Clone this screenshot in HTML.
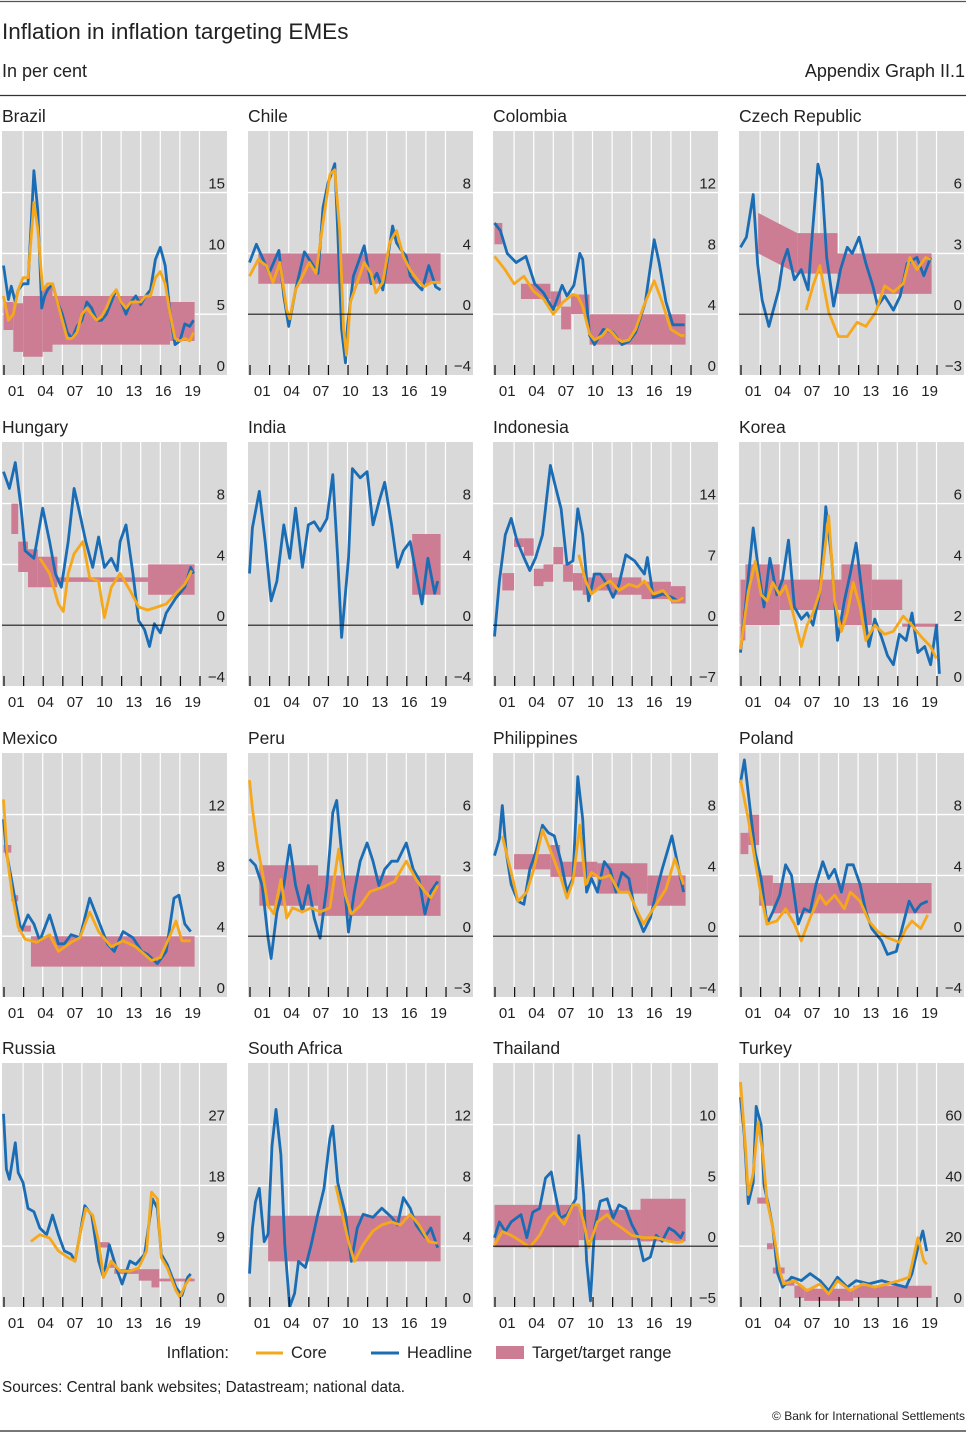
<!DOCTYPE html>
<html><head><meta charset="utf-8">
<style>
body{margin:0;background:#fff;}
#wrap{position:relative;width:966px;height:1433px;font-family:"Liberation Sans",Arial,sans-serif;color:#222;}
svg text{font-family:"Liberation Sans",Arial,sans-serif;}
</style></head>
<body>
<div id="wrap">
<svg id="fig" width="966" height="1433" viewBox="0 0 966 1433" xmlns="http://www.w3.org/2000/svg">
<line x1="0" y1="1.5" x2="966" y2="1.5" stroke="#555" stroke-width="1.2"/>
<text x="2" y="39" font-size="22.5" fill="#222">Inflation in inflation targeting EMEs</text>
<text x="2" y="77" font-size="18" fill="#222">In per cent</text>
<text x="965" y="77" font-size="18" fill="#222" text-anchor="end">Appendix Graph II.1</text>
<line x1="0" y1="95.5" x2="966" y2="95.5" stroke="#333" stroke-width="1.2"/>
<g id="panels"></g>
<g>
<text x="229" y="1358" font-size="16.5" text-anchor="end" fill="#222">Inflation:</text>
<line x1="256" y1="1353" x2="283" y2="1353" stroke="#f6a81c" stroke-width="3"/>
<text x="291" y="1358" font-size="16.5" fill="#222">Core</text>
<line x1="371" y1="1353" x2="399" y2="1353" stroke="#1a6db5" stroke-width="3"/>
<text x="407" y="1358" font-size="16.5" fill="#222">Headline</text>
<rect x="496" y="1346" width="28" height="13" fill="#cc7d93"/>
<text x="532" y="1358" font-size="16.5" fill="#222">Target/target range</text>
</g>
<text x="2" y="1392" font-size="15.3" fill="#222">Sources: Central bank websites; Datastream; national data.</text>
<text x="965" y="1420" font-size="12" fill="#222" text-anchor="end">© Bank for International Settlements</text>
<line x1="0" y1="1431" x2="966" y2="1431" stroke="#777" stroke-width="2"/>
</svg>
</div>
<script>
const yearLabels = ['01','04','07','10','13','16','19'];

const brazilTicks = [0,5,10,15];
const brazilHeadline = [[2000,9],[2000.5,6.2],[2000.8,7.3],[2001.2,6],[2001.5,7],[2002,7.5],[2002.5,7.5],[2002.8,12],[2003.1,16.8],[2003.5,13.5],[2003.9,5.5],[2004.2,6.5],[2004.5,7],[2005,7.5],[2005.5,6],[2006,5],[2006.5,3.5],[2007,3],[2007.5,4],[2008,4.5],[2008.5,6],[2009,5.5],[2009.5,4.5],[2010,4.5],[2010.5,5],[2011,6],[2011.5,7],[2012,6],[2012.5,5],[2013,6],[2013.5,6.5],[2014,5.8],[2014.5,6.5],[2015,7],[2015.5,9.5],[2016,10.5],[2016.5,9],[2017,5],[2017.5,2.5],[2018,2.8],[2018.5,4.2],[2019,4],[2019.4,4.5]];
const brazilCore = [[2000,6.5],[2000.5,4.5],[2001,5],[2001.5,7],[2002,8],[2002.5,8],[2002.8,11],[2003.1,14.2],[2003.5,12],[2004,7],[2004.5,7.5],[2005,7.5],[2005.5,6],[2006,4.5],[2006.5,3],[2007,3],[2007.5,3.5],[2008,5],[2008.5,5.5],[2009,5],[2009.5,4.5],[2010,4.8],[2010.5,5.5],[2011,6.5],[2011.5,7],[2012,6],[2012.5,5.5],[2013,6],[2013.5,6],[2014,6],[2014.5,6.5],[2015,6.5],[2015.5,8],[2016,8.5],[2016.5,7.5],[2017,5],[2017.5,3],[2018,2.8],[2018.5,3],[2019,2.8],[2019.4,3.5]];
const brazilTarget = [[2000,2001,3.7,6],[2001,2002,1.9,5.9],[2002,2004,1.5,6.5],[2004,2005,1.9,7.3],[2005,2017,2.5,6.5],[2017,2019.5,2.8,6]];

const chileTicks = [-4,0,4,8];
const chileHeadline = [[2000,3.4],[2000.7,4.6],[2001.4,3.6],[2002,2.7],[2003,4.2],[2003.5,1.2],[2004,-0.8],[2004.7,1.6],[2005.6,4.1],[2006.3,3.4],[2007,2.7],[2007.5,7],[2008,8.6],[2008.7,9.9],[2009,5.5],[2009.4,-1],[2009.8,-3.2],[2010,-0.8],[2010.6,2.5],[2011.7,4.5],[2012.4,2],[2013,2.7],[2013.6,1.6],[2014.6,5.8],[2015,4.7],[2015.5,4.2],[2016,3.8],[2016.4,2.5],[2017,2],[2017.6,1.6],[2018.3,3.2],[2019,1.8],[2019.5,1.6]];
const chileCore = [[2000,2.5],[2000.9,3.6],[2001.7,3.2],[2002.4,2.1],[2003.1,3.4],[2003.8,0.3],[2004.1,-0.3],[2004.7,1.6],[2005.4,2.5],[2006.1,3.4],[2006.8,2.7],[2007.5,6],[2008.2,9.2],[2008.7,9.5],[2009.2,5.5],[2009.6,-1],[2009.9,-2.7],[2010.3,0.8],[2011,2.1],[2011.7,3.4],[2012.4,2.7],[2012.9,1.4],[2013.6,2.1],[2014.3,4.7],[2015,5.5],[2015.7,3.8],[2016.4,2.9],[2017.1,2.3],[2017.8,1.8],[2018.6,2.1],[2019.5,2.1]];
const chileTarget = [[2000.9,2019.5,2,4]];

const colombiaTicks = [0,4,8,12];
const colombiaHeadline = [[2000,10],[2000.6,9.5],[2001.3,8],[2002.2,7.4],[2003.2,7.8],[2004.1,6],[2005,5.4],[2006,4.3],[2006.9,5.9],[2007.4,5.2],[2008.1,5.9],[2008.7,8],[2009,7.6],[2009.7,2.6],[2010.2,2],[2011.1,3],[2012.1,2.8],[2013,2],[2013.7,2.2],[2014.4,2.8],[2015.4,4.8],[2016.3,8.9],[2016.8,7.4],[2017.5,4.8],[2018.2,3.3],[2018.9,3.3],[2019.4,3.3]];
const colombiaCore = [[2000,7.8],[2001,7],[2002,6],[2003,6.5],[2004,5.5],[2005,5],[2006,4],[2007,4.8],[2008,5.3],[2008.5,5.2],[2009,4.5],[2009.7,2.7],[2010.2,2.3],[2011,2.6],[2011.5,3],[2012,2.8],[2012.5,2.4],[2013,2.2],[2013.7,2.3],[2014.4,3],[2015.2,4.5],[2016.3,6.2],[2017,5],[2017.5,4],[2018,3],[2018.5,2.8],[2019,2.6],[2019.4,2.6]];
const colombiaTarget = [[2000,2000.8,8.6,10],[2002.7,2005.7,5,6],[2005.7,2006.8,4.5,5.5],[2006.8,2007.8,3,4.5],[2007.8,2009.7,4,5.3],[2009.7,2019.5,2,4]];

const czechTicks = [-3,0,3,6];
const czechHeadline = [[2000,3.3],[2000.6,3.8],[2001.3,5.9],[2001.75,2.5],[2002.2,0.7],[2002.9,-0.6],[2003.9,1.2],[2004.3,2.5],[2004.8,3.2],[2005.5,1.7],[2006.2,2.2],[2006.9,1.2],[2007.2,3.2],[2007.9,7.4],[2008.3,6.6],[2008.8,2.8],[2009.5,0.4],[2010.2,2.2],[2010.9,3.3],[2011.4,3],[2012.1,3.8],[2012.8,2.5],[2013.5,1.4],[2014,0.4],[2014.7,0.9],[2015.6,0.2],[2016.3,0.9],[2017,2.5],[2018,2.8],[2018.7,1.9],[2019.4,2.8]];
const czechCore = [[2006.7,0.2],[2007.4,1.4],[2008.1,2.4],[2009,0.1],[2010,-1.1],[2010.9,-1.1],[2011.9,-0.4],[2012.8,-0.6],[2013.8,0.1],[2014.7,1.4],[2015.6,1.1],[2016.6,1.5],[2017.3,2.8],[2018,2.2],[2018.9,2.8],[2019.4,2.7]];
const czechTarget = [[2001.8,2005.8,3,5,2,4],[2005.8,2009.9,2,4],[2009.9,2019.5,1,3]];

const hungaryTicks = [-4,0,4,8];
const hungaryHeadline = [[2000,10.1],[2000.6,9],[2001.2,10.7],[2001.8,7.7],[2002.2,4.9],[2003.1,4.4],[2004,7.7],[2004.7,5.5],[2005.3,3.4],[2005.9,2.5],[2006.6,5.5],[2007.2,9],[2007.8,7.3],[2008.4,5.5],[2009.1,3.8],[2009.7,5.8],[2010.3,3.8],[2011,4.4],[2011.6,3.6],[2011.9,5.5],[2012.5,6.6],[2013.2,3.4],[2013.8,0.3],[2014.4,-0.3],[2014.9,-1.4],[2015.4,0.1],[2016,-0.5],[2016.6,0.8],[2017.6,1.8],[2018.5,2.5],[2019.1,3.8],[2019.4,3.4]];
const hungaryCore = [[2003.7,4.4],[2004.7,3.4],[2005.6,1.4],[2006.1,0.9],[2006.6,3.4],[2007.2,4.7],[2008.1,5.5],[2008.8,3.1],[2009.7,2.9],[2010.3,0.5],[2011,2.5],[2011.9,3.4],[2012.9,2.3],[2013.8,1.2],[2014.7,1],[2015.7,1.2],[2016.6,1.4],[2017.6,2.1],[2018.5,2.7],[2019.2,3.6]];
const hungaryTarget = [[2000.8,2001.5,6,8],[2001.5,2002.5,3.5,5.5],[2002.5,2003.5,2.5,5],[2003.5,2005.5,2.5,4.5],[2005.5,2014.75,2.85,3.15],[2014.75,2019.5,2,4]];

const indiaTicks = [-4,0,4,8];
const indiaHeadline = [[2000,3.4],[2000.3,6.4],[2001,8.8],[2001.6,5.5],[2002.2,1.6],[2002.8,2.9],[2003.5,6.6],[2004.1,4.4],[2004.7,7.7],[2005.4,3.8],[2006,6.6],[2006.6,6.8],[2007.2,6.2],[2007.9,7],[2008.5,9.9],[2009,4.4],[2009.4,-0.8],[2010.1,4.4],[2010.5,10.3],[2011.3,9.7],[2012,10.1],[2012.6,6.6],[2013.2,8.1],[2013.8,9.4],[2014.5,6.6],[2015.1,3.8],[2015.7,4.9],[2016.4,5.5],[2017,3.4],[2017.6,1.4],[2018.2,4.4],[2018.9,2.1],[2019.2,2.9]];
const indiaCore = [];
const indiaTarget = [[2016.6,2019.5,2,6]];

const indonesiaTicks = [-7,0,7,14];
const indonesiaHeadline = [[2000,-1.3],[2000.5,5.1],[2001.1,10.4],[2001.7,12.3],[2002.3,9.7],[2003,7.8],[2003.6,6.3],[2004.2,7.8],[2004.9,10.4],[2005.7,18.4],[2006.1,16.5],[2006.8,13.4],[2007.4,7],[2008,7.4],[2008.5,13.4],[2009,10.4],[2009.6,2.8],[2010.2,5.9],[2010.8,5.9],[2011.5,4.7],[2012.1,3.2],[2012.7,4.7],[2013.4,8.1],[2014.3,7.4],[2015.3,5.9],[2015.6,7.8],[2016.2,3.2],[2017.2,3.6],[2018.1,3.2],[2018.7,2.8],[2019.3,3.2]];
const indonesiaCore = [[2008.6,8.1],[2009.3,5.1],[2009.9,3.6],[2010.8,4.4],[2011.8,5.1],[2012.7,4],[2013.7,4.7],[2014.6,4.4],[2015.3,5.1],[2016.2,3.6],[2017.2,4],[2018.1,2.8],[2018.7,2.8],[2019.3,3.2]];
const indonesiaTarget = [[2000.8,2002,4,6],[2002,2003,9,10],[2003,2004,8,10],[2004,2005,4.5,6.5],[2005,2006,5,7],[2006,2007,7,9],[2007,2008,5,7],[2008,2009,4,6],[2009,2010,3.5,5.5],[2010,2012,4,6],[2012,2015,3.5,5.5],[2015,2018,3,5],[2018,2019.5,2.5,4.5]];

const koreaTicks = [0,2,4,6];
const koreaHeadline = [[2000,1.1],[2000.5,2.6],[2001.3,5.2],[2001.8,3.9],[2002.4,2.6],[2003,4.2],[2003.7,3],[2004.3,3.5],[2004.9,4.8],[2005.5,2.6],[2006.2,2.2],[2006.8,2.4],[2007.4,2],[2008.1,3.1],[2008.7,5.9],[2009.3,4.2],[2009.9,1.5],[2010.6,2.8],[2011.2,3.7],[2011.8,4.7],[2012.5,2.8],[2013.1,1.3],[2013.7,2.2],[2014.4,1.6],[2015,1],[2015.6,0.7],[2016.2,1.7],[2016.9,1.5],[2017.5,2.4],[2018.1,1.1],[2018.8,1.3],[2019.4,0.7],[2020,2],[2020.3,0.4]];
const koreaCore = [[2000,1.2],[2000.8,3.1],[2001.5,4.1],[2002.1,3],[2002.7,2.8],[2003.3,3.4],[2004,3],[2004.6,3.3],[2005.2,2.6],[2006.2,1.3],[2006.8,2],[2007.4,2.4],[2008.1,3.1],[2009,5.6],[2009.6,2.8],[2010.3,1.8],[2010.9,2.4],[2011.5,3.4],[2012.2,2.6],[2012.8,1.5],[2013.7,2],[2014.7,1.7],[2015.6,1.8],[2016.6,2.3],[2017.5,2],[2018.5,1.6],[2019.4,1.3],[2020,0.9]];
const koreaTarget = [[2000,2000.5,1.5,3.5],[2000.5,2004,2,4],[2004,2010.3,2.5,3.5],[2010.3,2013.4,2,4],[2013.4,2016.5,2.5,3.5],[2016.5,2020.2,1.95,2.05]];

const mexicoTicks = [0,4,8,12];
const mexicoHeadline = [[2000,11.7],[2000.3,9.5],[2000.8,7.8],[2001.2,6.3],[2001.8,4.3],[2002.5,5.4],[2003.1,4.8],[2003.7,3.7],[2004.7,5.4],[2005.6,3.5],[2006.2,3.5],[2006.9,4.1],[2007.8,3.9],[2008.8,6.5],[2009.7,5],[2010.6,3.5],[2011.3,3],[2012.2,4.3],[2013.2,3.9],[2014.1,3],[2014.7,2.8],[2015.7,2.2],[2016.6,3],[2017.4,6.5],[2017.9,6.7],[2018.5,4.8],[2019.1,4.3]];
const mexicoCore = [[2000,13],[2000.4,9.1],[2000.9,6.7],[2001.5,4.6],[2002.2,3.8],[2003.4,3.6],[2004.7,4.1],[2005.6,3],[2006.9,3.6],[2007.8,3.9],[2008.8,5.6],[2009.7,4.3],[2011,3.3],[2012.2,3.7],[2013.5,3.3],[2015.1,2.4],[2016,2.6],[2016.9,3.9],[2017.6,5],[2018.2,3.7],[2019.1,3.7]];
const mexicoTarget = [[2000,2000.8,9.5,10],[2000.8,2001.5,6.3,6.7],[2001.5,2002.8,4.3,4.7],[2002.8,2019.5,2,4]];

const peruTicks = [-3,0,3,6];
const peruHeadline = [[2000,3.8],[2000.6,3.5],[2001.3,2.5],[2001.9,-0.1],[2002.2,-1.1],[2002.8,1.2],[2003.5,2.5],[2004.1,4.5],[2004.7,2.5],[2005.4,1.2],[2006,2.5],[2006.6,0.9],[2007.2,-0.1],[2007.9,2.5],[2008.5,6.1],[2008.9,6.7],[2009.4,4.1],[2010.1,0.2],[2010.7,2.2],[2011.3,3.7],[2012,4.6],[2012.6,3.7],[2013.2,2.5],[2013.8,3.3],[2014.5,3.7],[2015.1,3.7],[2016,4.6],[2016.7,3.3],[2017.3,2.8],[2017.9,1.1],[2018.5,2.2],[2019.2,2.7]];
const peruCore = [[2000,7.7],[2000.3,6.3],[2000.8,4.5],[2001.3,3.2],[2001.9,1.5],[2002.5,1.1],[2003.2,2.8],[2003.8,0.9],[2004.4,1.4],[2005.4,1.2],[2006.3,1.4],[2007.2,1.2],[2008.2,1.4],[2009.1,4.3],[2009.8,2],[2010.4,1.1],[2011.3,1.5],[2012.3,2.2],[2013.5,2.4],[2014.8,2.7],[2016,3.7],[2017,2.8],[2017.9,2.2],[2018.5,1.9],[2019.2,2.5]];
const peruTarget = [[2001,2007,1.5,3.5],[2007,2019.5,1,3]];

const philippinesTicks = [-4,0,4,8];
const philippinesHeadline = [[2000,5.3],[2000.5,6.4],[2000.8,8.6],[2001.2,5.5],[2001.7,3.4],[2002.4,2.3],[2003,2.1],[2003.6,4.4],[2004.2,5.5],[2004.9,7.3],[2005.5,6.8],[2006.1,6.6],[2006.8,4.9],[2007.4,2.9],[2008,3.8],[2008.5,10.5],[2009,7.7],[2009.4,2.9],[2009.9,3.8],[2010.5,2.9],[2011.2,4.9],[2011.8,4.4],[2012.4,2.9],[2013,4.2],[2013.7,3.8],[2014.3,1.8],[2015.2,0.3],[2015.9,1.2],[2016.5,2.9],[2017.1,4.4],[2018.1,6.6],[2018.7,4.7],[2019.3,2.9]];
const philippinesCore = [[2000.8,6.6],[2001.2,5.5],[2001.7,4.2],[2002.4,2.3],[2003.3,2.9],[2004,4.4],[2004.9,7],[2005.8,5.5],[2006.8,3.8],[2007.4,2.5],[2008,3.6],[2008.7,7.3],[2009.3,3.4],[2009.9,4.2],[2010.8,3.8],[2011.8,4],[2012.7,2.9],[2013.7,2.9],[2014.6,1.6],[2015.2,0.8],[2016.2,1.8],[2017.5,3.1],[2018.4,5.1],[2019.3,3.4]];
const philippinesTarget = [[2002,2005.7,4.4,5.4],[2005.7,2006.7,3.9,6],[2006.7,2010.5,3.9,4.9],[2010.5,2015.6,2.8,4.8],[2015.6,2019.5,2,4]];

const polandTicks = [-4,0,4,8];
const polandHeadline = [[2000,10.1],[2000.4,11.6],[2000.8,9.4],[2001.5,5.5],[2002.1,3.8],[2002.7,0.8],[2003.3,1.6],[2004,2.7],[2004.6,4.7],[2005.2,4],[2005.9,0.8],[2006.5,1.8],[2007.1,1.6],[2007.7,3.4],[2008.4,4.9],[2009,3.8],[2009.6,4.4],[2010.3,2.9],[2010.9,4.7],[2011.5,4.7],[2012.2,3.4],[2012.8,1.6],[2013.4,0.5],[2014.4,-0.3],[2015,-1.2],[2015.9,-1],[2016.6,0.8],[2017.2,2.3],[2017.8,1.6],[2018.4,2.1],[2019.1,2.3]];
const polandCore = [[2000,10.3],[2000.8,7.7],[2001.5,4.9],[2002.1,2.7],[2002.7,0.8],[2003.7,1],[2004.6,1.8],[2005.5,0.8],[2006.2,-0.3],[2007.1,1.2],[2008.1,2.7],[2008.7,2.1],[2009.6,2.7],[2010.6,1.8],[2011.2,2.9],[2012.2,2.3],[2013.1,1],[2014,0.3],[2015,-0.1],[2016.2,-0.4],[2016.9,0.5],[2017.5,1],[2018.4,0.5],[2019.1,1.4]];
const polandTarget = [[2000,2000.8,5.4,6.8],[2000.8,2001.9,6,8],[2001.9,2003.3,2,4],[2003.3,2019.5,1.5,3.5]];

const russiaTicks = [0,9,18,27];
const russiaHeadline = [[2000,28.6],[2000.3,20.4],[2000.6,18.9],[2001.2,24.3],[2001.5,19.9],[2002,18.4],[2002.5,14.6],[2003.1,14.1],[2003.7,11.7],[2004.4,10.7],[2005,13.6],[2005.6,10.7],[2006.2,8.3],[2006.9,7.8],[2007.3,6.8],[2007.8,10.7],[2008.3,15],[2009,13.6],[2009.7,6.8],[2010.2,4.4],[2010.8,9.2],[2011.5,5.8],[2012.1,3.4],[2012.9,6.8],[2013.5,6.3],[2014.4,7.8],[2015.2,16],[2015.7,14.6],[2016.1,7.8],[2016.7,6.3],[2017.6,2.9],[2018.2,1.7],[2018.8,4.4],[2019.1,4.9]];
const russiaCore = [[2002.8,9.7],[2003.7,10.7],[2004.7,10.2],[2005.6,8.3],[2006.6,7.3],[2007.3,6.8],[2007.8,10.7],[2008.4,14.6],[2009.1,13.6],[2009.7,9.7],[2010.2,4.4],[2011,6.8],[2011.9,5.3],[2012.9,5.3],[2013.8,5.8],[2014.6,8.3],[2015.1,17],[2015.7,16],[2016.1,7.3],[2016.7,5.8],[2017.6,2.4],[2018,1.5],[2018.6,3.4],[2019.1,4.4]];
const russiaTarget = [[2009.7,2010.8,8.8,9.6],[2010.8,2011.3,5.8,6.8],[2011.3,2013.8,4.9,5.6],[2013.8,2015.1,3.9,5.6],[2015.1,2015.9,2.9,5.6],[2015.9,2019.5,3.8,4.2]];

const southAfricaTicks = [0,4,8,12];
const southAfricaHeadline = [[2000,2.2],[2000.3,5.2],[2000.6,6.9],[2001,7.8],[2001.5,4.3],[2001.9,4.8],[2002.3,10.6],[2002.7,13],[2003.2,10],[2003.6,4.1],[2004.1,0],[2004.6,0.9],[2005,3],[2005.7,2.6],[2006.3,4.1],[2006.9,5.9],[2007.6,7.8],[2008.2,11.1],[2008.5,11.9],[2009,8.2],[2009.8,6.1],[2010.4,3],[2011,5.2],[2011.6,6.1],[2012.6,5.9],[2013.5,6.5],[2014.5,5.9],[2015.1,5.4],[2015.7,7.2],[2016.4,6.5],[2017,5.4],[2017.9,4.6],[2018.5,5.2],[2019.2,3.9]];
const southAfricaCore = [[2008.8,8],[2009.4,6.3],[2010.1,4.3],[2010.7,3],[2011.6,4.1],[2012.6,5],[2013.5,5.4],[2014.5,5.6],[2015.4,5.4],[2016.4,6.1],[2017.3,5.4],[2018.3,4.3],[2019.2,4.2]];
const southAfricaTarget = [[2001.9,2019.5,3,6]];

const thailandTicks = [-5,0,5,10];
const thailandHeadline = [[2000,0.7],[2000.5,2],[2001.1,1.2],[2001.7,2],[2002.7,2.6],[2003.3,0.7],[2003.9,2.8],[2004.6,3.1],[2005.2,5.6],[2005.8,6.1],[2006.1,4.7],[2006.7,2.3],[2007.4,2.6],[2008.3,3.9],[2008.6,9.1],[2009.1,4.2],[2009.4,-1.2],[2009.8,-4.5],[2010.2,1.5],[2010.8,3.7],[2011.5,3.9],[2012.1,2.3],[2012.7,3.4],[2013.4,3.1],[2014,1.8],[2014.6,0.9],[2015.2,-1.2],[2015.9,-0.9],[2016.5,0.9],[2017.1,0.4],[2017.8,1.5],[2018.4,1.2],[2019,0.7],[2019.3,1.2]];
const thailandCore = [[2000,0.1],[2000.8,1.2],[2001.7,0.9],[2002.7,0.4],[2003.6,-0.1],[2004.6,0.9],[2005.5,2.3],[2006.1,2.8],[2007.1,1.8],[2008,3.4],[2008.6,3.4],[2009.1,2],[2009.6,-0.1],[2010.5,2],[2011.5,2.6],[2012.1,2],[2013,1.5],[2014,0.9],[2015.2,0.7],[2016.5,0.7],[2017.8,0.4],[2018.7,0.3],[2019.3,0.4]];
const thailandTarget = [[2000,2008.6,-0.1,3.4],[2008.6,2014.9,0.5,3],[2014.9,2019.5,0.4,3.9]];

const turkeyTicks = [0,20,40,60];
const turkeyHeadline = [[2000,69],[2000.4,56],[2000.8,34],[2001.3,41],[2001.6,66],[2002.1,60],[2002.4,40],[2002.9,33],[2003.3,26],[2003.8,11],[2004.3,6.5],[2005.2,9.8],[2006.2,8.7],[2007.1,11],[2008.1,8.7],[2009,5.4],[2009.9,9.8],[2010.9,6.5],[2011.8,8.7],[2013.1,7.6],[2014.4,8.7],[2015.6,7.6],[2016.9,6.5],[2017.5,11],[2018.1,19.5],[2018.6,25],[2019,18.4]];
const turkeyCore = [[2000,74],[2000.5,53],[2000.8,37],[2001.3,44],[2001.8,61],[2002.3,50],[2002.7,35],[2003.3,26],[2004,12],[2004.4,7.6],[2005.5,8.7],[2006.8,5.4],[2008.1,7.6],[2009,4.3],[2009.9,8.7],[2011.2,5.4],[2012.5,7.6],[2013.7,6.5],[2015,7.6],[2016.2,8.7],[2017.2,9.8],[2018.1,22.8],[2018.7,15.2],[2019,14]];
const turkeyTarget = [[2001.7,2002.7,34,36],[2002.7,2003.3,19,21],[2003.3,2004.5,11,13],[2004.5,2005.5,7,9],[2005.5,2006.5,3,7],[2006.5,2011.5,2,6],[2011.5,2019.5,3,7]];

const panels = [
 {name:'Brazil',slug:'brazil',ticks:brazilTicks,head:brazilHeadline,core:brazilCore,target:brazilTarget},
 {name:'Chile',slug:'chile',ticks:chileTicks,head:chileHeadline,core:chileCore,target:chileTarget},
 {name:'Colombia',slug:'colombia',ticks:colombiaTicks,head:colombiaHeadline,core:colombiaCore,target:colombiaTarget},
 {name:'Czech Republic',slug:'czech-republic',ticks:czechTicks,head:czechHeadline,core:czechCore,target:czechTarget},
 {name:'Hungary',slug:'hungary',ticks:hungaryTicks,head:hungaryHeadline,core:hungaryCore,target:hungaryTarget},
 {name:'India',slug:'india',ticks:indiaTicks,head:indiaHeadline,core:indiaCore,target:indiaTarget},
 {name:'Indonesia',slug:'indonesia',ticks:indonesiaTicks,head:indonesiaHeadline,core:indonesiaCore,target:indonesiaTarget},
 {name:'Korea',slug:'korea',ticks:koreaTicks,head:koreaHeadline,core:koreaCore,target:koreaTarget},
 {name:'Mexico',slug:'mexico',ticks:mexicoTicks,head:mexicoHeadline,core:mexicoCore,target:mexicoTarget},
 {name:'Peru',slug:'peru',ticks:peruTicks,head:peruHeadline,core:peruCore,target:peruTarget},
 {name:'Philippines',slug:'philippines',ticks:philippinesTicks,head:philippinesHeadline,core:philippinesCore,target:philippinesTarget},
 {name:'Poland',slug:'poland',ticks:polandTicks,head:polandHeadline,core:polandCore,target:polandTarget},
 {name:'Russia',slug:'russia',ticks:russiaTicks,head:russiaHeadline,core:russiaCore,target:russiaTarget},
 {name:'South Africa',slug:'south-africa',ticks:southAfricaTicks,head:southAfricaHeadline,core:southAfricaCore,target:southAfricaTarget},
 {name:'Thailand',slug:'thailand',ticks:thailandTicks,head:thailandHeadline,core:thailandCore,target:thailandTarget},
 {name:'Turkey',slug:'turkey',ticks:turkeyTicks,head:turkeyHeadline,core:turkeyCore,target:turkeyTarget}
];

const NS='http://www.w3.org/2000/svg';
const colLeft=[2,248,493,739];
const rowTop=[131,442,753,1063];
const PW=225, PH=244, STEP=60.8;
const root=document.getElementById('panels');
function mk(tag,attrs,parent){const e=document.createElementNS(NS,tag);for(const k in attrs)e.setAttribute(k,attrs[k]);parent.appendChild(e);return e;}

panels.forEach((p,i)=>{
  const L=colLeft[i%4], T=rowTop[Math.floor(i/4)], B=T+PH;
  const t0=p.ticks[0], dt=p.ticks[1]-p.ticks[0];
  const xs=yr=>L+1.5+(yr-2000)*9.8;
  const ys=v=>B-(v-t0)/dt*STEP;
  const g=mk('g',{},root);
  
  
  const title=mk('text',{x:L,y:T-9,'font-size':17.5,fill:'#222'},g);
  title.textContent=p.name;
  
  
  const bg=mk('rect',{x:L,y:T,width:PW,height:PH,fill:'#d9d9d9'},g);
  
  
  const cid='clip'+i;
  const cp=mk('clipPath',{id:cid},g); mk('rect',{x:L,y:T,width:PW,height:PH},cp);
  for(let yr=2002;yr<=2020;yr+=2){
    const vl=mk('line',{x1:xs(yr),x2:xs(yr),y1:T,y2:B,stroke:'#fff','stroke-width':1.2},g);
    
    
  }
  p.ticks.forEach((tv,k)=>{
    if(k>0){
      const hl=mk('line',{x1:L,x2:L+PW,y1:ys(tv),y2:ys(tv),stroke:'#fff','stroke-width':1.4},g);
      
      
    }
  });
  const tg=mk('g',{'clip-path':'url(#'+cid+')'},g);
  p.target.forEach(b=>{
    const lo0=b[2],hi0=b[3],lo1=b.length>4?b[4]:b[2],hi1=b.length>4?b[5]:b[3];
    const pts=[[xs(b[0]),ys(hi0)],[xs(b[1]),ys(hi1)],[xs(b[1]),ys(lo1)],[xs(b[0]),ys(lo0)]].map(q=>q.join(',')).join(' ');
    const poly=mk('polygon',{points:pts,fill:'#cc7d93'},tg);
    
    
  });
  if(t0<0){
    const z=mk('line',{x1:L,x2:L+PW,y1:ys(0),y2:ys(0),stroke:'#111','stroke-width':1.2},g);
    
    
  }
  function series(arr,color,nm){
    if(!arr.length)return;
    const d=arr.map((q,j)=>(j?'L':'M')+xs(q[0]).toFixed(1)+','+ys(q[1]).toFixed(1)).join(' ');
    const pa=mk('path',{d:d,fill:'none',stroke:color,'stroke-width':2.8,'stroke-linejoin':'round'},tg);
    
    
  }
  series(p.head,'#1a6db5','headline');
  series(p.core,'#f6a81c','core');
  p.ticks.forEach(tv=>{
    const tl=mk('text',{x:L+PW-2,y:ys(tv)-4,'font-size':15,fill:'#222','text-anchor':'end'},g);
    tl.textContent=tv<0?'\u2212'+Math.abs(tv):String(tv);
    
    
  });
  for(let yr=2000;yr<=2020;yr+=2){
    const tk=mk('line',{x1:xs(yr)+0.5,x2:xs(yr)+0.5,y1:B-10,y2:B,stroke:'#111','stroke-width':1.3},g);
    
    
  }
  yearLabels.forEach(lab=>{
    const yr=2000+parseInt(lab,10)+0.3;
    const xl=mk('text',{x:xs(yr),y:B+21,'font-size':15,fill:'#222','text-anchor':'middle'},g);
    xl.textContent=lab;
    
    
  });
});
</script>
</body></html>
